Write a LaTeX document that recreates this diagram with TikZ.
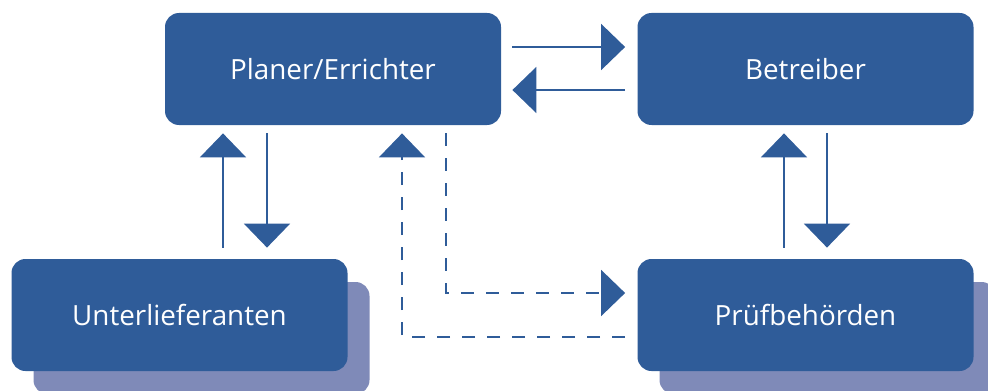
\documentclass[tikz,border=0pt]{standalone}
\usepackage{fontspec}
\setmainfont{Open Sans}
\usetikzlibrary{arrows.meta,shadows}
\definecolor{boxblue}{RGB}{47,92,153}
\definecolor{shadeblue}{RGB}{127,138,184}
\begin{document}
\begin{tikzpicture}
    [x=0.5pt, y=-0.5pt,
    box/.style={rectangle, rounded corners=7pt, fill=boxblue, text=white,
      minimum width=168pt, minimum height=56pt, inner sep=0pt,
      font=\fontsize{13.9}{16}\selectfont},
    shadowbox/.style={drop shadow={shadow xshift=11pt, shadow yshift=-11.5pt,
      fill=shadeblue, opacity=1}},
    flow/.style={draw=boxblue, line width=1pt, -{Triangle[width=23pt,length=12pt]}},
    dflow/.style={flow, dash pattern=on 6.5pt off 6pt}]
    \clip (0,0) rectangle (988,390);
    \node[box] (plan) at (333,69) {Planer/Errichter};
    \node[box] (betr) at (805.5,69) {Betreiber};
    \node[box, shadowbox] (unter) at (179.5,315) {Unterlieferanten};
    \node[box, shadowbox] (pruef) at (805.5,315) {Prüfbehörden};
    % oben
    \draw[flow, shorten <=5.5pt, shorten >=6pt] (plan.east |- 0,47) -- (betr.west |- 0,47);
    \draw[flow, shorten <=6pt, shorten >=5.5pt] (betr.west |- 0,90) -- (plan.east |- 0,90);
    % links
    \draw[flow, shorten <=5.5pt, shorten >=4pt] (unter.north -| 223,0) -- (plan.south -| 223,0);
    \draw[flow, shorten <=4pt, shorten >=5.5pt] (plan.south -| 267,0) -- (unter.north -| 267,0);
    % rechts
    \draw[flow, shorten <=5.5pt, shorten >=4pt] (pruef.north -| 784,0) -- (betr.south -| 784,0);
    \draw[flow, shorten <=4pt, shorten >=5.5pt] (betr.south -| 827,0) -- (pruef.north -| 827,0);
    % gestrichelt
    \draw[dflow, shorten <=4pt, shorten >=6pt] (plan.south -| 446,0) |- (pruef.west |- 0,293);
    \draw[dflow, shorten <=6pt, shorten >=4pt] (pruef.west |- 0,337) -| (plan.south -| 402,0);
\end{tikzpicture}
\end{document}
